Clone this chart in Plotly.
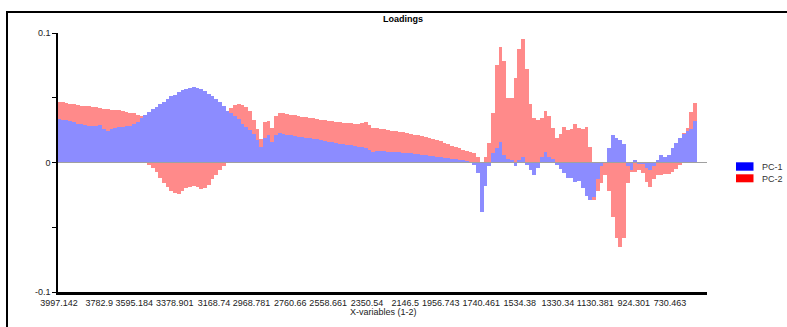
import plotly.graph_objects as go

# ---- data ----
WAVENUMBERS = [
    3997, 3977, 3957, 3937, 3917, 3897, 3877, 3857, 3837, 3817,
    3797, 3777, 3757, 3737, 3717, 3697, 3677, 3657, 3637, 3617,
    3597, 3577, 3557, 3537, 3517, 3497, 3477, 3457, 3437, 3417,
    3397, 3377, 3357, 3337, 3317, 3297, 3277, 3257, 3237, 3217,
    3197, 3177, 3157, 3137, 3117, 3097, 3077, 3057, 3037, 3017,
    2997, 2977, 2957, 2937, 2917, 2897, 2877, 2857, 2837, 2817,
    2797, 2777, 2757, 2737, 2717, 2697, 2677, 2657, 2637, 2617,
    2597, 2577, 2557, 2537, 2517, 2497, 2477, 2457, 2437, 2417,
    2397, 2377, 2357, 2337, 2317, 2297, 2277, 2257, 2237, 2217,
    2197, 2177, 2157, 2137, 2117, 2097, 2077, 2057, 2037, 2017,
    1997, 1977, 1957, 1937, 1917, 1897, 1877, 1857, 1837, 1817,
    1797, 1777, 1757, 1737, 1717, 1697, 1677, 1657, 1637, 1617,
    1597, 1577, 1557, 1537, 1517, 1497, 1477, 1457, 1437, 1417,
    1397, 1377, 1357, 1337, 1317, 1297, 1277, 1257, 1237, 1217,
    1197, 1177, 1157, 1137, 1117, 1097, 1077, 1057, 1037, 1017,
    997, 977, 957, 937, 917, 897, 877, 857, 837, 817,
    797, 777, 757, 737, 717, 697, 677, 657, 637, 617,
    597,
]

PC1 = [
    0.0336, 0.0330, 0.0325, 0.0320, 0.0310, 0.0300, 0.0295, 0.0290, 0.0280, 0.0280,
    0.0285, 0.0290, 0.0260, 0.0240, 0.0255, 0.0270, 0.0277, 0.0277, 0.0280, 0.0285,
    0.0295, 0.0310, 0.0340, 0.0365, 0.0390, 0.0410, 0.0430, 0.0455, 0.0470, 0.0490,
    0.0510, 0.0525, 0.0545, 0.0560, 0.0570, 0.0575, 0.0580, 0.0575, 0.0565, 0.0550,
    0.0530, 0.0510, 0.0490, 0.0465, 0.0435, 0.0400, 0.0385, 0.0360, 0.0335, 0.0300,
    0.0275, 0.0250, 0.0220, 0.0170, 0.0120, 0.0190, 0.0210, 0.0160, 0.0210, 0.0225,
    0.0220, 0.0215, 0.0210, 0.0205, 0.0200, 0.0198, 0.0192, 0.0188, 0.0183, 0.0178,
    0.0172, 0.0167, 0.0162, 0.0155, 0.0150, 0.0146, 0.0141, 0.0137, 0.0133, 0.0128,
    0.0122, 0.0116, 0.0110, 0.0095, 0.0082, 0.0085, 0.0090, 0.0085, 0.0082, 0.0080,
    0.0080, 0.0078, 0.0075, 0.0072, 0.0070, 0.0067, 0.0063, 0.0060, 0.0056, 0.0052,
    0.0048, 0.0045, 0.0042, 0.0038, 0.0034, 0.0030, 0.0026, 0.0022, 0.0018, 0.0010,
    0.0000, -0.0020, -0.0080, -0.0380, -0.0180, -0.0030, 0.0070, 0.0110, 0.0160, 0.0060,
    0.0030, 0.0020, -0.0030, 0.0020, 0.0045, -0.0020, -0.0060, -0.0099, -0.0040, 0.0040,
    0.0080, 0.0040, 0.0030, -0.0020, -0.0050, -0.0080, -0.0120, -0.0120, -0.0150, -0.0140,
    -0.0200, -0.0260, -0.0290, -0.0270, -0.0130, -0.0030, 0.0000, 0.0110, 0.0210, 0.0186,
    0.0170, 0.0140, -0.0030, -0.0060, 0.0020, -0.0010, -0.0010, -0.0040, -0.0060, -0.0030,
    0.0020, 0.0057, 0.0045, 0.0060, 0.0110, 0.0148, 0.0190, 0.0220, 0.0240, 0.0260,
    0.0320,
]

PC2 = [
    0.0470, 0.0465, 0.0460, 0.0455, 0.0450, 0.0445, 0.0440, 0.0437, 0.0433, 0.0430,
    0.0425, 0.0420, 0.0415, 0.0410, 0.0405, 0.0405, 0.0406, 0.0395, 0.0390, 0.0385,
    0.0380, 0.0370, 0.0360, 0.0200, -0.0020, -0.0040, -0.0070, -0.0120, -0.0160, -0.0190,
    -0.0220, -0.0235, -0.0240, -0.0220, -0.0200, -0.0190, -0.0184, -0.0190, -0.0205, -0.0200,
    -0.0170, -0.0130, -0.0100, -0.0060, -0.0030, 0.0350, 0.0420, 0.0445, 0.0453, 0.0445,
    0.0432, 0.0400, 0.0330, 0.0260, 0.0180, 0.0315, 0.0320, 0.0270, 0.0360, 0.0380,
    0.0380, 0.0375, 0.0370, 0.0365, 0.0360, 0.0354, 0.0350, 0.0345, 0.0340, 0.0335,
    0.0330, 0.0326, 0.0322, 0.0318, 0.0315, 0.0310, 0.0307, 0.0304, 0.0302, 0.0300,
    0.0298, 0.0305, 0.0310, 0.0290, 0.0270, 0.0265, 0.0262, 0.0255, 0.0250, 0.0245,
    0.0240, 0.0238, 0.0232, 0.0226, 0.0220, 0.0215, 0.0210, 0.0205, 0.0195, 0.0190,
    0.0180, 0.0175, 0.0165, 0.0148, 0.0140, 0.0130, 0.0120, 0.0110, 0.0100, 0.0090,
    0.0080, 0.0070, 0.0040, -0.0020, 0.0040, 0.0150, 0.0380, 0.0750, 0.0890, 0.0780,
    0.0500, 0.0500, 0.0650, 0.0880, 0.0950, 0.0720, 0.0450, 0.0340, 0.0330, 0.0340,
    0.0400, 0.0360, 0.0270, 0.0186, 0.0220, 0.0277, 0.0250, 0.0260, 0.0297, 0.0270,
    0.0260, 0.0277, 0.0120, -0.0290, -0.0220, -0.0160, -0.0100, -0.0220, -0.0420, -0.0580,
    -0.0650, -0.0580, -0.0160, -0.0070, -0.0070, -0.0060, -0.0080, -0.0150, -0.0190, -0.0130,
    -0.0100, -0.0100, -0.0090, -0.0085, -0.0070, -0.0050, -0.0020, 0.0230, 0.0270, 0.0390,
    0.0460,
]

X_TICK_VALUES = [3997.142, 3782.9, 3595.184, 3378.901, 3168.74, 2968.781, 2760.66,
                 2558.661, 2350.54, 2146.5, 1956.743, 1740.461, 1534.38, 1330.34,
                 1130.381, 924.301, 730.463]
X_TICK_LABELS = ["3997.142", "3782.9", "3595.184", "3378.901", "3168.74", "2968.781",
                 "2760.66", "2558.661", "2350.54", "2146.5", "1956.743", "1740.461",
                 "1534.38", "1330.34", "1130.381", "924.301", "730.463"]
Y_TICK_VALUES = [-0.1, -0.05, 0, 0.05, 0.1]
Y_TICK_LABELS = ["-0.1", "", "0", "", "0.1"]
SERIES_NAMES = ["PC-1", "PC-2"]

FONT = "Liberation Sans, Arial, sans-serif"
BAR_BLUE = "rgb(140,140,255)"
BAR_RED = "rgb(255,138,138)"

fig = go.Figure()
fig.add_trace(go.Bar(x=WAVENUMBERS, y=PC2, name=SERIES_NAMES[1],
                     marker=dict(color=BAR_RED, line=dict(width=0)), showlegend=False))
fig.add_trace(go.Bar(x=WAVENUMBERS, y=PC1, name=SERIES_NAMES[0],
                     marker=dict(color=BAR_BLUE, line=dict(width=0)), showlegend=False))

W, H = 787, 327
ML, MR, MT, MB = 58, 80, 33, 35
PW = W - ML - MR
PH = H - MT - MB


def px(xpix):
    return (xpix - ML) / PW


def py(ypix):
    return (H - MB - ypix) / PH


shapes = [
    # outer frame (runs off the right and bottom edges)
    dict(type="rect", xref="paper", yref="paper", x0=px(7), x1=px(800),
         y0=py(340), y1=py(12), line=dict(color="black", width=2), layer="above"),
    # zero line
    dict(type="line", xref="paper", yref="y", x0=0, x1=1, y0=0, y1=0,
         line=dict(color="rgb(160,160,160)", width=1), layer="above"),
    # legend swatches
    dict(type="rect", xref="paper", yref="paper", x0=px(736), x1=px(753.5),
         y0=py(170.7), y1=py(162.3), fillcolor="rgb(0,0,255)", line=dict(width=0)),
    dict(type="rect", xref="paper", yref="paper", x0=px(736), x1=px(753.5),
         y0=py(182.3), y1=py(174.3), fillcolor="rgb(255,0,0)", line=dict(width=0)),
]

annotations = [
    dict(text="<b>Loadings</b>", xref="paper", yref="paper", x=px(403), y=py(19),
         xanchor="center", yanchor="middle", showarrow=False,
         font=dict(family=FONT, size=9, color="black")),
    dict(text="X-variables (1-2)", xref="paper", yref="paper", x=px(383), y=py(312),
         xanchor="center", yanchor="middle", showarrow=False,
         font=dict(family=FONT, size=9, color="#222")),
    dict(text=SERIES_NAMES[0], xref="paper", yref="paper", x=px(760), y=py(166.5),
         xanchor="left", yanchor="middle", showarrow=False,
         font=dict(family=FONT, size=9, color="#333")),
    dict(text=SERIES_NAMES[1], xref="paper", yref="paper", x=px(760), y=py(178.5),
         xanchor="left", yanchor="middle", showarrow=False,
         font=dict(family=FONT, size=9, color="#333")),
]

fig.update_layout(
    width=W, height=H,
    margin=dict(l=ML, r=MR, t=MT, b=MB, pad=0),
    paper_bgcolor="white", plot_bgcolor="white",
    barmode="overlay", bargap=0.0,
    showlegend=False,
    font=dict(family=FONT, size=9, color="#333"),
    shapes=shapes, annotations=annotations,
    xaxis=dict(range=[4003, 533], tickmode="array", tickvals=X_TICK_VALUES,
               ticktext=X_TICK_LABELS, showgrid=False, zeroline=False,
               showline=True, linecolor="black", linewidth=2.5,
               ticks="", tickfont=dict(family=FONT, size=9, color="#222")),
    yaxis=dict(range=[-0.1, 0.1], tickmode="array", tickvals=Y_TICK_VALUES,
               ticktext=Y_TICK_LABELS, showgrid=False, zeroline=False,
               showline=True, linecolor="black", linewidth=1.5,
               ticks="outside", ticklen=4, tickcolor="black", tickwidth=1,
               tickfont=dict(family=FONT, size=9, color="#222")),
)

fig.write_html(
    "out.html",
    config={"displayModeBar": False},
    post_script="document.body.style.margin='0';document.body.style.overflow='hidden';",
)
